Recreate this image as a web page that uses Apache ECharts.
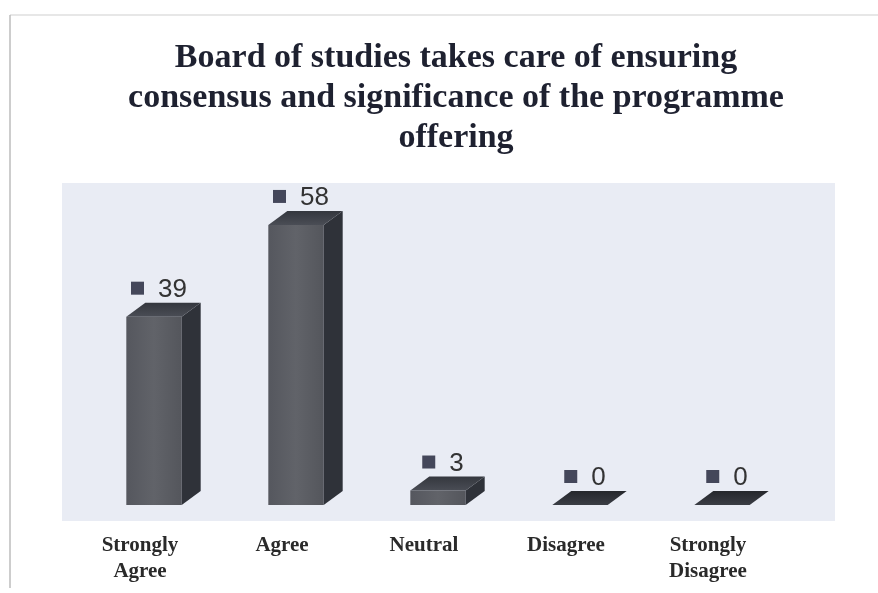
<!DOCTYPE html>
<html>
<head>
<meta charset="utf-8">
<script src="https://cdn.jsdelivr.net/npm/echarts@6/dist/echarts.min.js"></script>
<style>
  html, body { margin: 0; padding: 0; background: #fff; }
  #host { width: 878px; height: 593px; }
</style>
</head>
<body>
<div id="host"></div>
<script>
const categories = ["Strongly\nAgree", "Agree", "Neutral", "Disagree", "Strongly\nDisagree"];
const values = [39, 58, 3, 0, 0];
const titleText = "Board of studies takes care of ensuring\nconsensus and significance of the programme\noffering";

// 3d box look
const DX = 19, DY = 14, SHIFT = 14;

const chart = echarts.init(document.getElementById("host"));

function renderBox(params, api) {
  const idx = api.value(0);
  const v = api.value(1);
  const base = api.coord([idx, 0]);
  const top = api.coord([idx, v]);
  const w = api.size([1, 0])[0] * 0.39;
  const cx = base[0] + SHIFT;
  const xl = cx - w / 2, xr = cx + w / 2;
  const yt = top[1], yb = base[1];
  const backTop = yt - DY;

  const kids = [];
  if (yb - yt > 0.5) {
    kids.push({
      type: "rect",
      shape: { x: xl, y: yt, width: w, height: yb - yt },
      style: {
        fill: new echarts.graphic.LinearGradient(0, 0, 1, 0, [
          { offset: 0, color: "#55575e" },
          { offset: 0.5, color: "#616369" },
          { offset: 1, color: "#54565c" },
        ]),
      },
    });
    kids.push({
      type: "polygon",
      shape: { points: [[xr, yt], [xr + DX, yt - DY], [xr + DX, yb - DY], [xr, yb]] },
      style: { fill: "#2f3239" },
    });
  }
  kids.push({
    type: "polygon",
    shape: { points: [[xl, yt], [xl + DX, yt - DY], [xr + DX, yt - DY], [xr, yt]] },
    style: {
      fill: new echarts.graphic.LinearGradient(0, 1, 0, 0, [
        { offset: 0, color: v > 0 ? "#4a4d55" : "#3a3d44" },
        { offset: 1, color: v > 0 ? "#34373e" : "#25272c" },
      ]),
    },
  });

  // value label: small square + number
  const txt = String(v);
  const tw = txt.length * 14.5;
  const gw = 13 + 14 + tw;
  const gx = cx + 5 - gw / 2;
  kids.push({
    type: "rect",
    shape: { x: gx, y: backTop - 21, width: 13, height: 13 },
    style: { fill: "#44475a" },
  });
  kids.push({
    type: "text",
    style: {
      text: txt,
      x: gx + 27,
      y: backTop - 13,
      align: "left",
      verticalAlign: "middle",
      font: "26px 'Liberation Sans', Arial, sans-serif",
      fill: "#333333",
    },
  });
  return { type: "group", children: kids };
}

chart.setOption({
  backgroundColor: "#ffffff",
  animation: false,
  title: {
    text: titleText,
    left: 451,
    top: 33,
    textAlign: "center",
    textStyle: {
      fontFamily: "'Liberation Serif', 'Times New Roman', serif",
      fontWeight: "bold",
      fontSize: 34,
      lineHeight: 40,
      color: "#1e2130",
    },
  },
  graphic: {
    elements: [
      { type: "line", shape: { x1: 10, y1: 15, x2: 878, y2: 15 }, style: { stroke: "#cfcfcf", lineWidth: 1 } },
      { type: "line", shape: { x1: 10, y1: 15, x2: 10, y2: 588 }, style: { stroke: "#bdbdbd", lineWidth: 1.5 } },
      { type: "rect", shape: { x: 62, y: 183, width: 773, height: 338 }, style: { fill: "#e9ecf4" } },
    ],
  },
  grid: { left: 69, right: 99, top: 167, bottom: 88 },
  xAxis: {
    type: "category",
    data: categories,
    axisLine: { show: false },
    axisTick: { show: false },
    axisLabel: {
      interval: 0,
      margin: 28,
      color: "#2a2a2a",
      fontFamily: "'Liberation Serif', 'Times New Roman', serif",
      fontWeight: "bold",
      fontSize: 21,
      lineHeight: 26,
    },
  },
  yAxis: {
    type: "value",
    min: 0,
    max: 70,
    show: false,
    splitLine: { show: false },
  },
  series: [
    {
      type: "custom",
      renderItem: renderBox,
      encode: { x: 0, y: 1 },
      data: values.map((v, i) => [i, v]),
    },
  ],
});
</script>
</body>
</html>
